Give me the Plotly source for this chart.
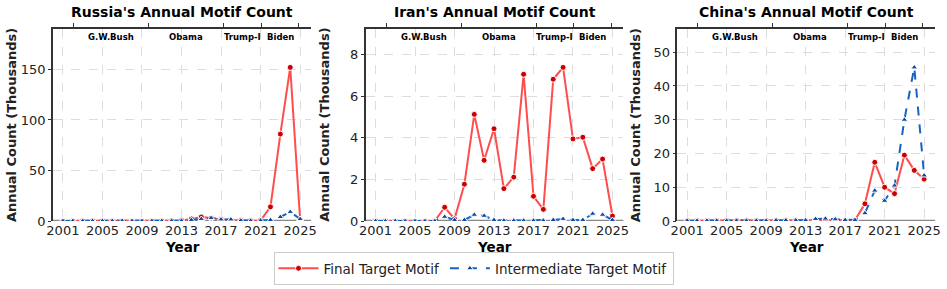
import plotly.graph_objects as go

years = list(range(2001, 2026))

russia_final = [0.1, 0.1, 0.1, 0.1, 0.1, 0.1, 0.1, 0.1, 0.1, 0.1, 0.1, 0.2,
                0.5, 2.0, 4.0, 3.0, 1.5, 1.0, 0.5, 0.3, 0.5, 14.0, 86.0, 152.0, 1.0]
russia_inter = [0.1, 0.1, 0.1, 0.1, 0.1, 0.1, 0.1, 0.1, 0.1, 0.1, 0.1, 0.2,
                0.3, 1.0, 2.0, 3.0, 1.5, 1.5, 0.5, 0.3, 0.5, 1.0, 4.0, 9.0, 2.0]

iran_final = [0.0, 0.0, 0.0, 0.0, 0.0, 0.0, 0.0, 0.66, 0.1, 1.77, 5.13, 2.92,
              4.44, 1.56, 2.11, 7.06, 1.19, 0.56, 6.82, 7.39, 3.95, 4.03, 2.52, 2.98, 0.24]
iran_inter = [0.0, 0.0, 0.0, 0.0, 0.0, 0.0, 0.0, 0.2, 0.05, 0.05, 0.3, 0.25,
              0.05, 0.02, 0.02, 0.02, 0.02, 0.02, 0.05, 0.1, 0.05, 0.05, 0.35, 0.3, 0.05]

china_final = [0.1, 0.1, 0.1, 0.1, 0.1, 0.1, 0.1, 0.1, 0.1, 0.1, 0.1, 0.1,
               0.1, 0.2, 0.3, 0.2, 0.1, 0.3, 5.1, 17.4, 10.0, 8.1, 19.5, 15.0, 12.4]
china_inter = [0.1, 0.1, 0.1, 0.1, 0.1, 0.1, 0.1, 0.1, 0.1, 0.2, 0.2, 0.2,
               0.2, 0.6, 0.7, 0.5, 0.3, 0.3, 2.3, 9.0, 6.0, 10.5, 30.0, 45.5, 13.5]

countries = ["Russia", "Iran", "China"]
final_series = [russia_final, iran_final, china_final]
inter_series = [russia_inter, iran_inter, china_inter]
y_dticks = [50, 2, 10]

xtick_vals = [2001, 2005, 2009, 2013, 2017, 2021, 2025]
term_bounds = [2001, 2009, 2017, 2021, 2025]
term_names = ["G.W.Bush", "Obama", "Trump-I", "Biden"]
term_centers = [2005, 2013, 2019, 2023]

W, H = 947, 289
x_domains_px = [(53, 311), (365.7, 623.3), (677.3, 935)]
y_top_px, y_bot_px = 29, 221
ydom = [(H - y_bot_px) / H, (H - y_top_px) / H]

RED_LINE = "#ff4d4d"
RED_MARK = "#cc0000"
BLUE_LINE = "#1565c0"
BLUE_MARK = "#0d47a1"
FONT = "DejaVu Sans"

fig = go.Figure()
annotations = []
shapes = []

for i, (name, fin, inter) in enumerate(zip(countries, final_series, inter_series)):
    n = i + 1
    xa = "x" if n == 1 else f"x{n}"
    ya = "y" if n == 1 else f"y{n}"
    top_n = n + 3
    dom = [x_domains_px[i][0] / W, x_domains_px[i][1] / W]
    ymax = max(max(fin), max(inter)) * 1.25

    fig.add_trace(go.Scatter(
        x=years, y=fin, xaxis=xa, yaxis=ya, mode="lines+markers",
        name="Final Target Motif", legendgroup="final", showlegend=(i == 0),
        line=dict(color=RED_LINE, width=2),
        marker=dict(symbol="circle", size=6, color=RED_MARK,
                    line=dict(color="white", width=1)),
    ))
    fig.add_trace(go.Scatter(
        x=years, y=inter, xaxis=xa, yaxis=ya, mode="lines+markers",
        name="Intermediate Target Motif", legendgroup="inter", showlegend=(i == 0),
        line=dict(color=BLUE_LINE, width=2, dash="dash"),
        marker=dict(symbol="triangle-up", size=6, color=BLUE_MARK,
                    line=dict(color="white", width=1)),
    ))

    fig.update_layout(**{
        f"xaxis{'' if n == 1 else n}": dict(
            domain=dom, anchor=ya, range=[2000, 2026.1],
            tickvals=xtick_vals, ticktext=[str(v) for v in xtick_vals],
            showgrid=True, gridcolor="#dddddd", griddash="dash", gridwidth=1,
            showline=False, zeroline=False, ticks="", automargin=False,
            tickfont=dict(family=FONT, size=13, color="#222"),
        ),
        f"yaxis{'' if n == 1 else n}": dict(
            domain=ydom, anchor=xa, range=[0, ymax], dtick=y_dticks[i], tick0=0,
            showgrid=True, gridcolor="#dddddd", griddash="dash", gridwidth=1,
            showline=True, linecolor="#333", linewidth=1.5, zeroline=False,
            ticks="outside", ticklen=3, tickcolor="#333", automargin=False,
            tickfont=dict(family=FONT, size=13, color="#222"),
        ),
        f"xaxis{top_n}": dict(
            overlaying=xa, side="top", anchor=ya, range=[1998.83, 2026.29],
            tickvals=term_bounds, showticklabels=False, ticks="outside",
            ticklen=4, tickcolor="#333", showgrid=False, zeroline=False,
            showline=True, linecolor="#333", linewidth=1.5, automargin=False,
        ),
    })
    fig.add_trace(go.Scatter(x=[2001], y=[0], xaxis=f"x{top_n}", yaxis=ya,
                             mode="markers", marker=dict(opacity=0),
                             showlegend=False, hoverinfo="skip"))

    shapes.append(dict(type="line", xref=f"{xa} domain", yref=ya,
                       x0=0, x1=1, y0=0, y1=0,
                       line=dict(color="#888888", width=2.5), layer="below"))

    cx = (x_domains_px[i][0] + x_domains_px[i][1]) / 2 / W
    annotations.append(dict(text=f"<b>{name}'s Annual Motif Count</b>",
                            x=cx, y=1 - 12 / H, xref="paper", yref="paper",
                            showarrow=False, xanchor="center", yanchor="middle",
                            font=dict(family=FONT, size=14, color="black")))
    annotations.append(dict(text="<b>Year</b>", x=cx, y=1 - 247 / H,
                            xref="paper", yref="paper", showarrow=False,
                            xanchor="center", yanchor="middle",
                            font=dict(family=FONT, size=13.5, color="black")))
    annotations.append(dict(text="<b>Annual Count (Thousands)</b>",
                            x=(x_domains_px[i][0] - 41) / W, y=(ydom[0] + ydom[1]) / 2,
                            xref="paper", yref="paper", showarrow=False,
                            textangle=-90, xanchor="center", yanchor="middle",
                            font=dict(family=FONT, size=13, color="#222")))
    for tn, tc in zip(term_names, term_centers):
        annotations.append(dict(text=f"<b>{tn}</b>", x=tc, y=1 - 37 / H,
                                xref=f"x{top_n}", yref="paper", showarrow=False,
                                xanchor="center", yanchor="middle",
                                font=dict(family=FONT, size=8.5, color="black")))

fig.update_layout(
    width=W, height=H, margin=dict(l=0, r=0, t=0, b=0, autoexpand=False),
    paper_bgcolor="white", plot_bgcolor="white",
    font=dict(family=FONT),
    annotations=annotations, shapes=shapes,
    legend=dict(orientation="h", x=0.5, xanchor="center", y=(H - 252) / H,
                yanchor="top", bgcolor="white", bordercolor="#cccccc",
                borderwidth=1, font=dict(family=FONT, size=13.5, color="#222"),
                itemwidth=40),
)

fig.write_html("out.html", config={"displayModeBar": False},
               post_script="document.body.style.margin='0';document.body.style.overflow='hidden';")
